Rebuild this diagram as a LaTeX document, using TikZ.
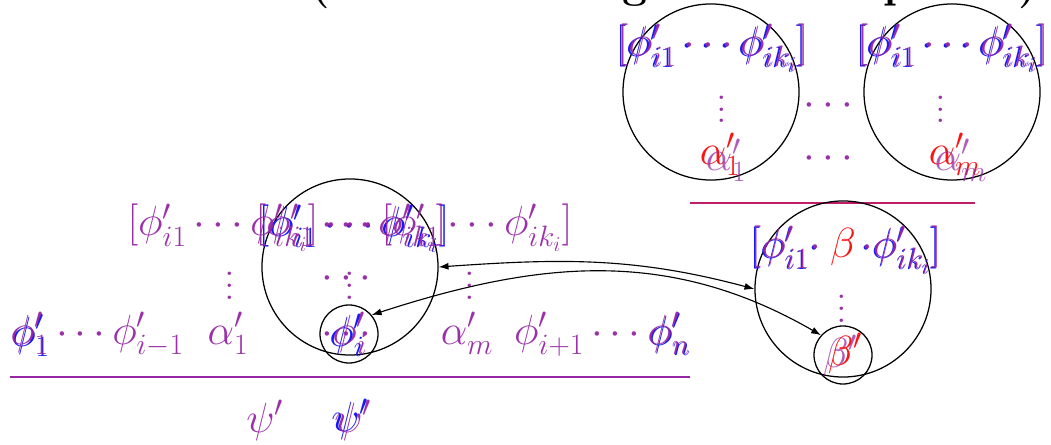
\documentclass[tikz,border=0pt]{standalone}
\usepackage{fix-cm}
\usepackage{amsmath}
\usepackage{xcolor}
\usepackage{tikz}
\usetikzlibrary{arrows.meta,positioning}

\definecolor{vio}{RGB}{150,38,165}
\definecolor{pblue}{RGB}{25,25,245}
\definecolor{pred}{RGB}{250,20,20}

\newcommand{\tallvdots}{\vbox{\baselineskip8.3pt\lineskiplimit0pt\kern4pt\hbox{.}\hbox{.}\hbox{.}}}
\newcommand{\sublist}{[\phi'_{i1}\cdots\phi'_{ik_i}]}

\begin{document}
\begin{tikzpicture}[x=0.025cm, y=-0.025cm,
      every node/.style={inner sep=0pt, font=\fontsize{30}{36}\selectfont},
      fv/.style={text=vio, text opacity=0.95, anchor=base},
      fb/.style={text=pblue, anchor=base},
      fr/.style={text=pred, anchor=base},
      ring/.style={circle, draw=black, line width=0.9pt, minimum size=4.4cm},
      dotring/.style={circle, draw=black, line width=0.9pt, minimum size=1.45cm},
      rule/.style={draw=vio, line width=1.3pt},
      arrow/.style={{Latex[length=7pt,width=5pt]}-{Latex[length=7pt,width=5pt]}, line width=0.8pt}
]
      \useasboundingbox (0,0) rectangle (1051,445);
      \node[anchor=base east, font=\fontsize{31.6}{38}\bfseries] (title) at (1038,-2.5) {Resolution (with renaming of the subproofs)};

      % premises (top right)
      \node[ring] (ringA) at (711,92) {};
      \node[ring] (ringB) at (952,92) {};
      \node[fb] (tbrAb) at (711,57) {$\sublist$};
      \node[fv] (tbrA) at (713,56) {$\sublist$};
      \node[fb] (tbrBb) at (951,57) {$\sublist$};
      \node[fv] (tbrB) at (953,56) {$\sublist$};
      \node[fv] (tvdA) at (722,123) {$\tallvdots$};
      \node[fv] (tvdB) at (941,123) {$\tallvdots$};
      \node[fv] (tdotsU) at (832,116) {$\cdots$};
      \node[fv] (tdotsL) at (832,169) {$\cdots$};
      \node[fr] (talAr) at (720,165) {$\alpha'_1$};
      \node[fv, text opacity=0.75] (talA) at (726,171) {$\alpha'_1$};
      \node[fr] (talBr) at (955,165) {$\alpha'_m$};
      \node[fv, text opacity=0.75] (talB) at (961,171) {$\alpha'_m$};
      \coordinate (ruleT-l) at (690,203);
      \coordinate (ruleT-r) at (975,203);
      \draw[draw=pred, line width=1.3pt] (ruleT-l) -- (ruleT-r);
      \draw[rule, opacity=0.6] (ruleT-l) -- (ruleT-r);

      % resolvent (right)
      \node[ring] (ringR) at (843,289) {};
      \node[dotring] (dotR) at (843,355) {};
      \node[fb] (rbrb) at (845,259) {$[\phi'_{i1}{\cdot}\,\phantom{\beta}\,{\cdot}\phi'_{ik_i}]$};
      \node[fv] (rbr) at (846,258) {$[\phi'_{i1}{\cdot}\,\phantom{\beta}\,{\cdot}\phi'_{ik_i}]$};
      \node[fr] (rbeta) at (843,258) {$\beta$};
      \node[fv] (rvd) at (842,322) {$\tallvdots$};
      \node[fv, text opacity=0.75] (rbetapv) at (840,367) {$\beta'$};
      \node[fr] (rbetap) at (845,365) {$\beta'$};

      % proof (left)
      \node[ring] (ringL) at (350,267) {};
      \node[dotring] (dotL) at (349,334) {};
      \node[fb] (lbrb) at (354,237) {$\sublist$};
      \node[fv] (lbrc) at (351,236) {$\sublist$};
      \node[fv] (lbr) at (350,236) {$\sublist\cdots\sublist$};
      \node[fv] (lvdA) at (230,299) {$\tallvdots$};
      \node[fv] (lvdM) at (350,299) {$\tallvdots$};
      \node[fv] (lvdB) at (470,299) {$\tallvdots$};
      \node[fv] (ldotsM) at (350,288) {$\cdots$};
      \node[fb, anchor=base west] (lleftb) at (11,346) {$\phi'_1$};
      \node[fv, anchor=base west] (lleft) at (10,344) {$\phi'_1\cdots\phi'_{i-1}$};
      \node[fv] (lalA) at (228,344) {$\alpha'_1$};
      \node[fv] (ldotsL) at (350,344) {$\cdots$};
      \node[fb] (lphib) at (347,346) {$\phi'_i$};
      \node[fv] (lphi) at (350,344) {$\phi'_i$};
      \node[fv] (lalB) at (467,344) {$\alpha'_m$};
      \node[fb, anchor=base east] (lrightb) at (691,345) {$\phi'_n$};
      \node[fv, anchor=base east] (lright) at (690,344) {$\phi'_{i+1}\cdots\phi'_n$};
      \coordinate (ruleL-l) at (10,377);
      \coordinate (ruleL-r) at (690,377);
      \draw[rule] (ruleL-l) -- (ruleL-r);
      \node[fv] (lpsiA) at (265,432) {$\psi'$};
      \node[fb] (lpsib) at (350,431) {$\psi'$};
      \node[fv] (lpsi) at (353,432) {$\psi'$};

      \draw[arrow] (ringL.east) to[out=4,in=165] (ringR.west);
      \draw[arrow] (dotL.40) to[out=18,in=150] (dotR.138);
\end{tikzpicture}
\end{document}
